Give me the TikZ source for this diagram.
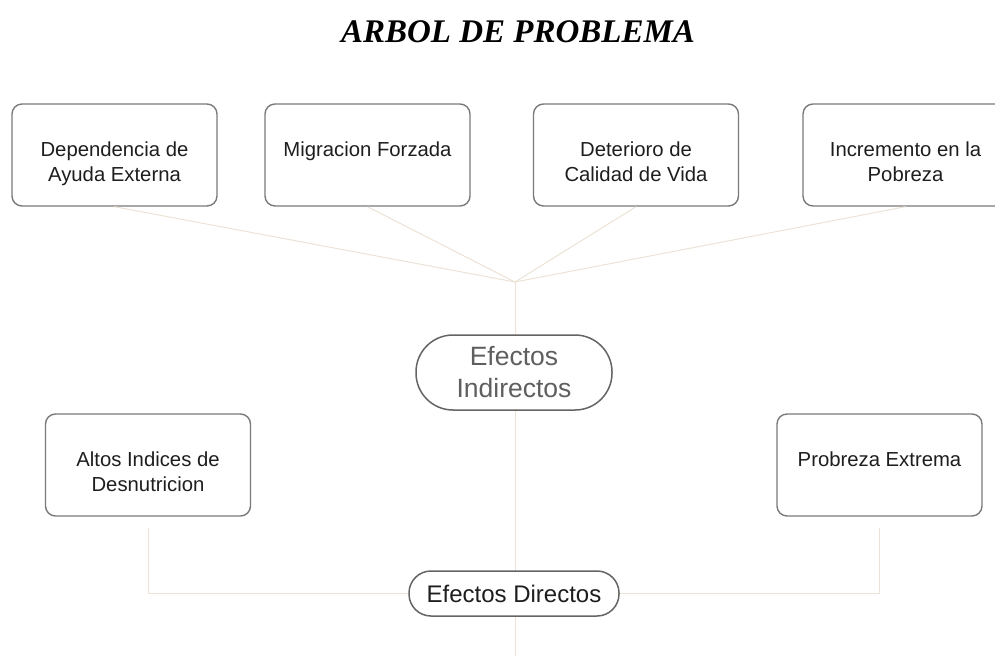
\documentclass[tikz,border=0pt]{standalone}
\usepackage{fontspec}
\setmainfont{Liberation Sans}
\newfontfamily\titlefont{Liberation Serif}
\definecolor{linkc}{RGB}{236,226,214}
\definecolor{boxc}{RGB}{122,122,122}
\definecolor{pillc}{RGB}{100,100,100}
\definecolor{txtc}{RGB}{30,30,30}
\definecolor{graytxt}{RGB}{95,95,95}
\begin{document}
\begin{tikzpicture}[x=1pt,y=-1pt,
  boxstyle/.style={draw=boxc,line width=1.4pt,fill=white,rounded corners=10pt,minimum width=205pt,minimum height=102pt,inner sep=0pt},
  boxtext/.style={anchor=north,align=center,inner sep=0pt,text=txtc,font=\fontsize{20.3}{25}\selectfont},
  pill/.style={draw=pillc,line width=1.5pt,fill=white,inner sep=0pt,align=center},
  link/.style={draw=linkc,line width=1pt}]
\useasboundingbox (0,0) rectangle (995,656);
% title
\node[anchor=base,font=\titlefont\bfseries\itshape\fontsize{33}{38}\selectfont] (title) at (518,42) {ARBOL DE PROBLEMA};
% coordinates
\coordinate (J) at (515,282);
\coordinate (B) at (515,656);
% top boxes
\node[boxstyle] (b1) at (114.5,155) {};
\node[boxstyle] (b2) at (367.5,155) {};
\node[boxstyle] (b3) at (636,155) {};
\node[boxstyle] (b4) at (905.5,155) {};
\node[boxtext] (t1) at (114.5,142) {Dependencia de\\Ayuda Externa};
\node[boxtext] (t2) at (367.5,142) {Migracion Forzada};
\node[boxtext] (t3) at (636,142) {Deterioro de\\Calidad de Vida};
\node[boxtext] (t4) at (905.5,142) {Incremento en la\\Pobreza};
% middle boxes
\node[boxstyle] (b5) at (148,465) {};
\node[boxstyle] (b6) at (879.5,465) {};
\node[boxtext] (t5) at (148,452) {Altos Indices de\\Desnutricion};
\node[boxtext] (t6) at (879.5,452) {Probreza Extrema};
% links
\draw[link] (b1.south) -- (J);
\draw[link] (b2.south) -- (J);
\draw[link] (b3.south) -- (J);
\draw[link] (b4.south) -- (J);
\draw[link] (J) -- (B);
% pills
\node[pill,rounded corners=37pt,minimum width=196pt,minimum height=75pt,text=graytxt,font=\fontsize{26.5}{32}\selectfont] (ind) at (514,372.5) {Efectos\\Indirectos};
\node[pill,rounded corners=22pt,minimum width=210pt,minimum height=45pt,text=txtc,font=\fontsize{24}{28}\selectfont] (dir) at (514,593.5) {Efectos Directos};
\draw[link] ([yshift=-11pt]b5.south) |- (dir.west);
\draw[link] ([yshift=-11pt]b6.south) |- (dir.east);
\end{tikzpicture}
\end{document}
